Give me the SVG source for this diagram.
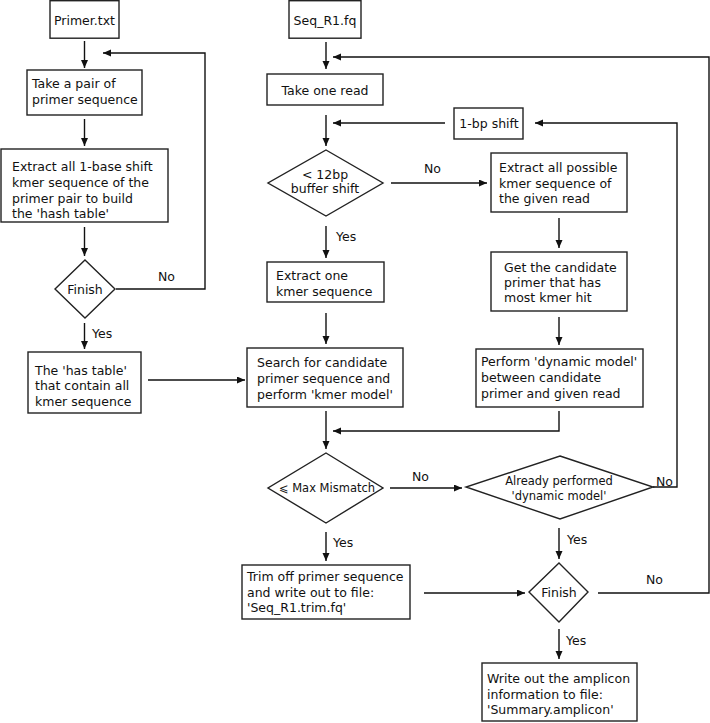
<svg xmlns="http://www.w3.org/2000/svg" width="710" height="723" viewBox="0 0 710 723">
<style>
.box{fill:#fff;stroke:#222;stroke-width:1.4}
.t{font-family:"DejaVu Sans",sans-serif;font-size:12.5px;fill:#111}
.s{font-family:"DejaVu Sans",sans-serif;font-size:11.5px;fill:#111}
.c{text-anchor:middle}
.ln{fill:none;stroke:#111;stroke-width:1.4}
.ar{marker-end:url(#ah)}
</style>
<defs>
<marker id="ah" markerUnits="userSpaceOnUse" markerWidth="9" markerHeight="8" refX="8" refY="3.5" orient="auto">
<path d="M0,0 L8,3.5 L0,7 z" fill="#111"/>
</marker>
</defs>
<rect width="710" height="723" fill="#fff"/>

<g id="primer_txt"><rect class="box" x="50" y="0.7" width="69" height="37.5"/><text class="t c" x="84.5" y="24.5">Primer.txt</text></g>
<g id="take_pair"><rect class="box" x="27" y="70" width="115" height="45"/><text class="t" x="32" y="88">Take a pair of</text><text class="t" x="32" y="104">primer sequence</text></g>
<g id="extract_all_1base"><rect class="box" x="1" y="149" width="167" height="73"/><text class="t" x="12" y="171">Extract all 1-base shift</text><text class="t" x="12" y="187">kmer sequence of the</text><text class="t" x="12" y="203">primer pair to build</text><text class="t" x="12" y="218">the 'hash table'</text></g>
<g id="finish1"><polygon class="box" points="85,260 115,289 85,318 55,289"/><text class="t c" x="85" y="293.5">Finish</text></g>
<g id="has_table"><rect class="box" x="28" y="352" width="113" height="61"/><text class="t" x="35" y="374.5">The 'has table'</text><text class="t" x="35" y="390">that contain all</text><text class="t" x="35" y="406">kmer sequence</text></g>

<g id="seq_r1"><rect class="box" x="289" y="0.7" width="72" height="37.5"/><text class="t c" x="325" y="25">Seq_R1.fq</text></g>
<g id="take_read"><rect class="box" x="267" y="74" width="116" height="31"/><text class="t c" x="325" y="94.5">Take one read</text></g>
<g id="shift_1bp"><rect class="box" x="454" y="108" width="69" height="31"/><text class="t c" x="489" y="127.5">1-bp shift</text></g>
<g id="buffer_shift"><polygon class="box" points="326,150 383,183 326,216 268,183"/><text class="t c" x="325" y="178.5">&lt; 12bp</text><text class="t c" x="325" y="192.5">buffer shift</text></g>
<g id="extract_one"><rect class="box" x="267" y="262" width="117" height="40"/><text class="t" x="276" y="279.5">Extract one</text><text class="t" x="276" y="295.5">kmer sequence</text></g>
<g id="search"><rect class="box" x="247" y="348" width="156" height="59"/><text class="t" x="257" y="366.5">Search for candidate</text><text class="t" x="257" y="382.5">primer sequence and</text><text class="t" x="257" y="398.5">perform 'kmer model'</text></g>
<g id="max_mismatch"><polygon class="box" points="326,453 383,488 326,523 268,488"/><text class="s c" x="327" y="492">⩽ Max Mismatch</text></g>
<g id="trim"><rect class="box" x="242" y="565" width="168" height="54"/><text class="t" x="247" y="580.5">Trim off primer sequence</text><text class="t" x="247" y="596.5">and write out to file:</text><text class="t" x="247" y="611.5">'Seq_R1.trim.fq'</text></g>

<g id="extract_all_possible"><rect class="box" x="491" y="153" width="136" height="59"/><text class="t" x="499" y="171.5">Extract all possible</text><text class="t" x="499" y="187.5">kmer sequence of</text><text class="t" x="499" y="202.5">the given read</text></g>
<g id="get_candidate"><rect class="box" x="491" y="252" width="136" height="59"/><text class="t" x="504" y="271.5">Get the candidate</text><text class="t" x="504" y="286.5">primer that has</text><text class="t" x="504" y="301.5">most kmer hit</text></g>
<g id="perform_dynamic"><rect class="box" x="476" y="349" width="167" height="58"/><text class="t" x="481" y="365.5">Perform 'dynamic model'</text><text class="t" x="481" y="381.5">between candidate</text><text class="t" x="481" y="397.5">primer and given read</text></g>
<g id="already_performed"><polygon class="box" points="560,456 653,487 560,519 466,487"/><text class="s c" x="559" y="485">Already performed</text><text class="s c" x="559" y="500">'dynamic model'</text></g>
<g id="finish2"><polygon class="box" points="559,563 588,592 559,622 529,592"/><text class="t c" x="559" y="596.5">Finish</text></g>
<g id="summary"><rect class="box" x="482" y="663" width="155" height="58"/><text class="t" x="487" y="682.5">Write out the amplicon</text><text class="t" x="487" y="698.5">information to file:</text><text class="t" x="487" y="713.5">'Summary.amplicon'</text></g>

<g id="connectors">
<line class="ln ar" x1="84.5" y1="41" x2="84.5" y2="68"/>
<line class="ln ar" x1="84.5" y1="119" x2="84.5" y2="146"/>
<line class="ln ar" x1="84.5" y1="227" x2="84.5" y2="256"/>
<polyline class="ln ar" points="116,289 205,289 205,53 103,53"/>
<line class="ln ar" x1="84.5" y1="323" x2="84.5" y2="349"/>
<line class="ln ar" x1="148" y1="380" x2="245" y2="380"/>
<line class="ln ar" x1="326" y1="42" x2="326" y2="69"/>
<line class="ln ar" x1="326" y1="115" x2="326" y2="146"/>
<line class="ln ar" x1="445" y1="123" x2="333" y2="123"/>
<line class="ln ar" x1="391" y1="183" x2="487" y2="183"/>
<line class="ln ar" x1="326" y1="226" x2="326" y2="258"/>
<line class="ln ar" x1="326" y1="313" x2="326" y2="344"/>
<line class="ln ar" x1="326" y1="411" x2="326" y2="449"/>
<polyline class="ln ar" points="559,411 559,431 333,431"/>
<line class="ln ar" x1="559" y1="218" x2="559" y2="248"/>
<line class="ln ar" x1="559" y1="317" x2="559" y2="345"/>
<line class="ln ar" x1="390" y1="488" x2="462" y2="488"/>
<polyline class="ln ar" points="653,487 677,487 677,123 535,123"/>
<line class="ln ar" x1="559" y1="528" x2="559" y2="559"/>
<line class="ln ar" x1="326" y1="532" x2="326" y2="561"/>
<line class="ln ar" x1="424" y1="593" x2="525" y2="593"/>
<polyline class="ln ar" points="598,593 709,593 709,57 333,57"/>
<line class="ln ar" x1="559" y1="629" x2="559" y2="659"/>
<text class="t" x="158" y="280.5">No</text>
<text class="t" x="92" y="338">Yes</text>
<text class="t" x="424" y="172.5">No</text>
<text class="t" x="336" y="240.5">Yes</text>
<text class="t" x="412" y="480.5">No</text>
<text class="t" x="333" y="546.5">Yes</text>
<text class="t" x="656" y="485.5">No</text>
<text class="t" x="567" y="543.5">Yes</text>
<text class="t" x="646" y="583.5">No</text>
<text class="t" x="566" y="644.5">Yes</text>
</g>
</svg>
